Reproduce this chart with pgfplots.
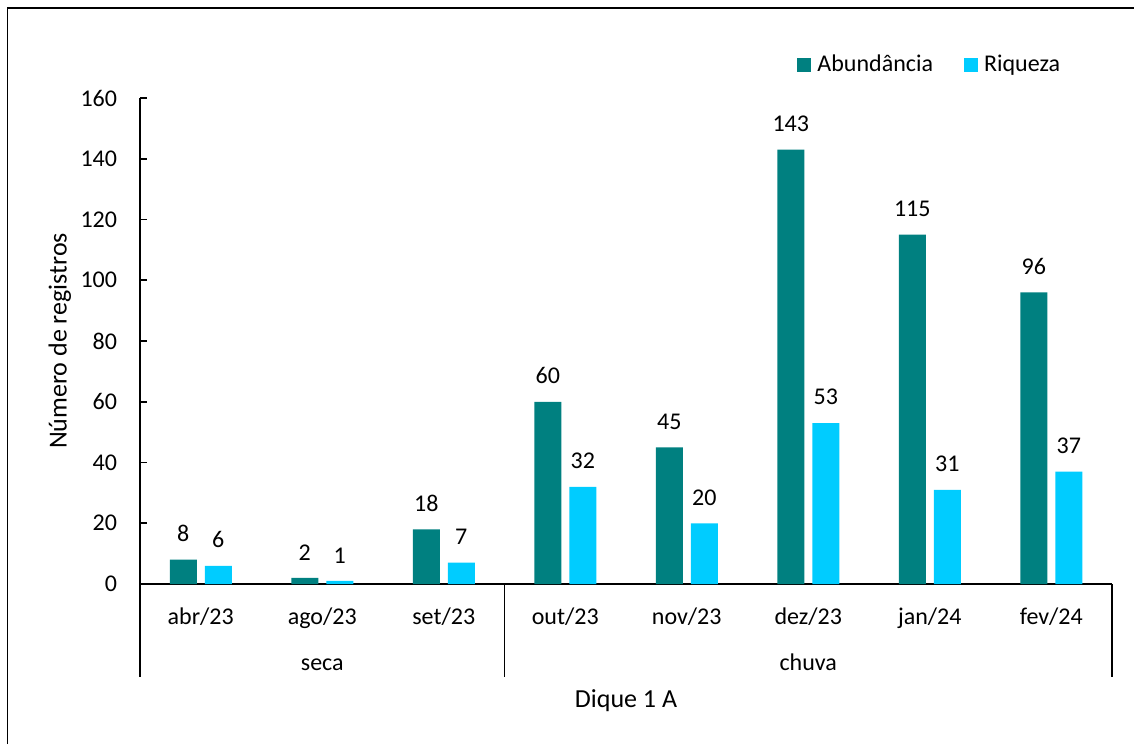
\documentclass[border=0pt]{standalone}
\usepackage{pgfplots}
\pgfplotsset{compat=1.18}
\usepackage{fontspec}
\setmainfont{Carlito}
\definecolor{abund}{HTML}{008080}
\definecolor{riq}{HTML}{00CCFF}

\begin{document}
\fontsize{12}{14.4}\selectfont
\begin{tikzpicture}
\useasboundingbox (0,0) rectangle (567pt,372pt);
% outer chart frame (left and top edges only are in view)
\draw[line width=0.6pt] (3.75pt,0) -- (3.75pt,368pt) -- (567pt,368pt);
\begin{axis}[
  at={(70pt,80pt)}, anchor=south west,
  scale only axis, width=486pt, height=243pt,
  ybar=4pt, bar width=13.5pt,
  ymin=0, ymax=160, ytick={0,20,...,160},
  xmin=-0.5, xmax=7.5,
  xtick=data,
  xticklabels={abr/23,ago/23,set/23,out/23,nov/23,dez/23,jan/24,fev/24},
  axis x line=bottom, axis y line=left,
  axis line style={-, line width=0.8pt},
  tick align=inside, major tick length=3.5pt,
  ytick style={line width=0.8pt, black},
  xtick style={draw=none},
  xticklabel style={anchor=base, yshift=-20pt},
  yticklabel style={xshift=-7.3pt},
  /pgf/number format/assume math mode=true,
  clip=false,
  nodes near coords,
  every node near coord/.append style={yshift=4.75pt, black},
  ylabel={Número de registros},
  ylabel style={at={(axis description cs:-0.0754,0.5)}, anchor=base,
    font=\fontsize{13}{15.6}\selectfont},
  xlabel={Dique 1 A},
  xlabel style={at={(axis description cs:0.5,-0.255)}, anchor=base,
    font=\fontsize{13}{15.6}\selectfont},
  legend columns=2,
  legend image code/.code={\fill[#1] (0pt,-3.5pt) rectangle (7pt,3.5pt);},
  legend style={at={(axis description cs:0.676,1.068)}, anchor=west,
    draw=none, fill=none, inner sep=0pt, nodes={inner sep=0pt},
    /tikz/every odd column/.append style={column sep=3pt},
    /tikz/every even column/.append style={column sep=15.5pt}},
]
\addplot[draw=none, fill=abund] coordinates {(0,8) (1,2) (2,18) (3,60) (4,45) (5,143) (6,115) (7,96)};
\addplot[draw=none, fill=riq] coordinates {(0,6) (1,1) (2,7) (3,32) (4,20) (5,53) (6,31) (7,37)};
\legend{Abundância, Riqueza}
% multi-level category axis: group separators and group names
\draw[line width=0.8pt] (axis cs:-0.5,0) -- ++(0pt,-46.5pt);
\draw[line width=0.8pt] (axis cs:2.5,0) -- ++(0pt,-46.5pt);
\draw[line width=0.8pt] (axis cs:7.5,0) -- ++(0pt,-46.5pt);
\node[anchor=base] at ([yshift=-43pt]axis cs:1,0) {seca};
\node[anchor=base] at ([yshift=-43pt]axis cs:5,0) {chuva};
\end{axis}
\end{tikzpicture}
\end{document}
